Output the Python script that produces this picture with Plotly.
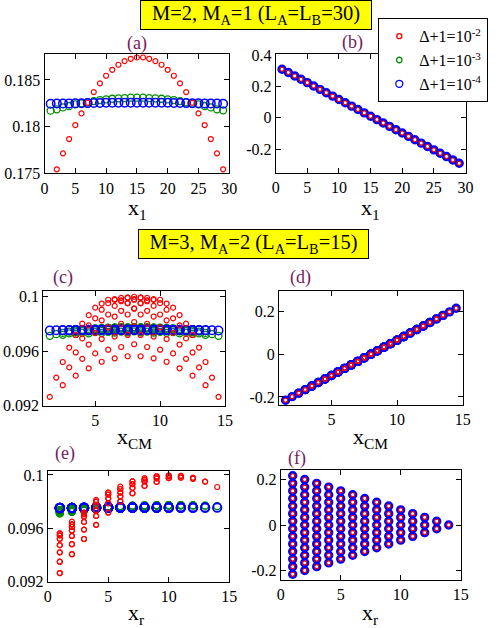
import plotly.graph_objects as go

# ---- top row: M=2, M_A=1 (L_A=L_B=30) ----
x1_sites = list(range(1, 30))
red_a_x = list(range(2, 30))
red_a = [0.17543, 0.17714, 0.17867, 0.18017, 0.18142, 0.18256, 0.18370, 0.18464,
         0.18545, 0.18609, 0.18663, 0.18702, 0.18727, 0.18742, 0.18742, 0.18727,
         0.18702, 0.18663, 0.18609, 0.18545, 0.18464, 0.18370, 0.18256, 0.18142,
         0.18017, 0.17867, 0.17714, 0.17543]
green_a = [0.18171, 0.18185, 0.18206, 0.18221, 0.18238, 0.18249, 0.18260, 0.18274,
           0.18285, 0.18292, 0.18299, 0.18303, 0.18306, 0.18310, 0.18310, 0.18310,
           0.18306, 0.18303, 0.18299, 0.18292, 0.18285, 0.18274, 0.18260, 0.18249,
           0.18238, 0.18221, 0.18206, 0.18185, 0.18175]
blue_a = [0.18246, 0.18247, 0.18248, 0.18249, 0.18250, 0.18251, 0.18252, 0.18253,
          0.18254, 0.18255, 0.18256, 0.18256, 0.18256, 0.18256, 0.18256, 0.18256,
          0.18256, 0.18256, 0.18256, 0.18255, 0.18254, 0.18253, 0.18252, 0.18251,
          0.18250, 0.18249, 0.18248, 0.18247, 0.18246]
# panel (b): the three curves coincide
line_b = [0.3090, 0.2876, 0.2661, 0.2447, 0.2233, 0.2019, 0.1804, 0.1590, 0.1376,
          0.1161, 0.0947, 0.0733, 0.0519, 0.0304, 0.0090, -0.0124, -0.0339, -0.0553,
          -0.0767, -0.0981, -0.1196, -0.1410, -0.1624, -0.1839, -0.2053, -0.2267,
          -0.2481, -0.2696, -0.2910]

# ---- lower rows: M=3, M_A=2 (L_A=L_B=15), one list per separation x_r = 1..14 ----
red_ce = [
    [0.09265, 0.09350, 0.09420, 0.09474, 0.09522, 0.09547, 0.09562, 0.09562, 0.09547, 0.09522, 0.09474, 0.09420, 0.09350, 0.09265],
    [0.09406, 0.09481, 0.09543, 0.09583, 0.09610, 0.09630, 0.09650, 0.09630, 0.09610, 0.09583, 0.09543, 0.09481, 0.09406],
    [0.09520, 0.09590, 0.09648, 0.09688, 0.09706, 0.09718, 0.09718, 0.09706, 0.09688, 0.09648, 0.09590, 0.09520],
    [0.09626, 0.09693, 0.09733, 0.09773, 0.09800, 0.09813, 0.09800, 0.09773, 0.09733, 0.09693, 0.09626],
    [0.09718, 0.09788, 0.09825, 0.09853, 0.09868, 0.09868, 0.09853, 0.09825, 0.09788, 0.09718],
    [0.09801, 0.09840, 0.09868, 0.09895, 0.09913, 0.09895, 0.09868, 0.09840, 0.09801],
    [0.09863, 0.09903, 0.09931, 0.09952, 0.09952, 0.09931, 0.09903, 0.09863],
    [0.09918, 0.09951, 0.09965, 0.09976, 0.09965, 0.09951, 0.09918],
    [0.09948, 0.09975, 0.09990, 0.09990, 0.09975, 0.09948],
    [0.09976, 0.09990, 0.09998, 0.09990, 0.09976],
    [0.09980, 0.09993, 0.09993, 0.09980],
    [0.09972, 0.09980, 0.09972],
    [0.09950, 0.09950],
    [0.09910],
]
green_ce = [
    [0.09712, 0.09719, 0.09725, 0.09730, 0.09734, 0.09736, 0.09737, 0.09737, 0.09736, 0.09734, 0.09730, 0.09725, 0.09719, 0.09712],
    [0.09724, 0.09730, 0.09735, 0.09739, 0.09741, 0.09743, 0.09745, 0.09743, 0.09741, 0.09739, 0.09735, 0.09730, 0.09724],
    [0.09733, 0.09739, 0.09744, 0.09748, 0.09749, 0.09750, 0.09750, 0.09749, 0.09748, 0.09744, 0.09739, 0.09733],
    [0.09742, 0.09748, 0.09752, 0.09755, 0.09757, 0.09758, 0.09757, 0.09755, 0.09752, 0.09748, 0.09742],
    [0.09750, 0.09756, 0.09759, 0.09762, 0.09763, 0.09763, 0.09762, 0.09759, 0.09756, 0.09750],
    [0.09757, 0.09761, 0.09763, 0.09765, 0.09767, 0.09765, 0.09763, 0.09761, 0.09757],
    [0.09763, 0.09766, 0.09768, 0.09770, 0.09770, 0.09768, 0.09766, 0.09763],
    [0.09767, 0.09770, 0.09771, 0.09772, 0.09771, 0.09770, 0.09767],
    [0.09770, 0.09772, 0.09773, 0.09773, 0.09772, 0.09770],
    [0.09772, 0.09773, 0.09774, 0.09773, 0.09772],
    [0.09773, 0.09774, 0.09774, 0.09773],
    [0.09772, 0.09773, 0.09772],
    [0.09770, 0.09770],
    [0.09767],
]
blue_ce = [
    [0.09751, 0.09752, 0.09752, 0.09753, 0.09753, 0.09753, 0.09753, 0.09753, 0.09753, 0.09753, 0.09753, 0.09752, 0.09752, 0.09751],
    [0.09752, 0.09753, 0.09753, 0.09754, 0.09754, 0.09754, 0.09754, 0.09754, 0.09754, 0.09754, 0.09753, 0.09753, 0.09752],
    [0.09753, 0.09754, 0.09754, 0.09755, 0.09755, 0.09755, 0.09755, 0.09755, 0.09755, 0.09754, 0.09754, 0.09753],
    [0.09754, 0.09755, 0.09755, 0.09755, 0.09756, 0.09756, 0.09756, 0.09755, 0.09755, 0.09755, 0.09754],
    [0.09755, 0.09755, 0.09756, 0.09756, 0.09756, 0.09756, 0.09756, 0.09756, 0.09755, 0.09755],
    [0.09755, 0.09756, 0.09756, 0.09756, 0.09756, 0.09756, 0.09756, 0.09756, 0.09755],
    [0.09756, 0.09756, 0.09756, 0.09756, 0.09756, 0.09756, 0.09756, 0.09756],
    [0.09756, 0.09756, 0.09756, 0.09756, 0.09756, 0.09756, 0.09756],
    [0.09756, 0.09756, 0.09756, 0.09756, 0.09756, 0.09756],
    [0.09756, 0.09756, 0.09756, 0.09756, 0.09756],
    [0.09756, 0.09756, 0.09756, 0.09756],
    [0.09756, 0.09756, 0.09756],
    [0.09756, 0.09756],
    [0.09756],
]
# panels (d)/(f): value depends on x_CM only, the three curves coincide
xcm_levels = [1.5, 2, 2.5, 3, 3.5, 4, 4.5, 5, 5.5, 6, 6.5, 7, 7.5, 8, 8.5, 9, 9.5,
              10, 10.5, 11, 11.5, 12, 12.5, 13, 13.5, 14, 14.5]
cm_vals = [-0.2155, -0.1989, -0.1823, -0.1658, -0.1492, -0.1326, -0.1160, -0.0995,
           -0.0829, -0.0663, -0.0497, -0.0332, -0.0166, 0.0, 0.0166, 0.0332, 0.0497,
           0.0663, 0.0829, 0.0995, 0.1160, 0.1326, 0.1492, 0.1658, 0.1823, 0.1989, 0.2155]

L = 15
xcm, xr = [], []
for d in range(1, L):
    for s in range(1, L - d + 1):
        xcm.append(s + d / 2)
        xr.append(d)
flat = lambda rows: [v for row in rows for v in row]
red_c, green_c, blue_c = flat(red_ce), flat(green_ce), flat(blue_ce)
cm_lookup = dict(zip(xcm_levels, cm_vals))
df_y = [cm_lookup[c] for c in xcm]

RED, GREEN, BLUE = "#ff0000", "#008c00", "#0000ff"
FONT = "Liberation Serif"


def mk(color, size, lw):
    return dict(symbol="circle-open", size=size, color=color, line=dict(width=lw, color=color))


fig = go.Figure()


def add(x, y, ax, color, size, lw):
    fig.add_trace(go.Scatter(x=x, y=y, mode="markers", marker=mk(color, size, lw),
                             xaxis="x" + ax, yaxis="y" + ax, showlegend=False))


# (a)
add(x1_sites, green_a, "", GREEN, 7, 1.3)
add(x1_sites, blue_a, "", BLUE, 8.5, 1.5)
add(red_a_x, red_a, "", RED, 5, 1.2)
# (b)
add(x1_sites, line_b, "2", GREEN, 5, 1.2)
add(x1_sites, line_b, "2", BLUE, 7, 2.4)
add(x1_sites, line_b, "2", RED, 4, 1.1)
# (c)
add(xcm, green_c, "3", GREEN, 7, 1.3)
add(xcm, blue_c, "3", BLUE, 8.5, 1.5)
add(xcm, red_c, "3", RED, 5, 1.2)
# (d)
add(xcm, df_y, "4", GREEN, 5, 1.2)
add(xcm, df_y, "4", BLUE, 7, 2.4)
add(xcm, df_y, "4", RED, 4, 1.1)
# (e)
add(xr, green_c, "5", GREEN, 7, 1.3)
add(xr, blue_c, "5", BLUE, 8.5, 1.8)
add(xr, red_c, "5", RED, 5, 1.2)
# (f)
add(xr, df_y, "6", GREEN, 5, 1.2)
add(xr, df_y, "6", BLUE, 7, 2.4)
add(xr, df_y, "6", RED, 4, 1.1)

# legend entries
for name, color, size in [("Δ+1=10<sup>-2</sup>", RED, 5),
                          ("Δ+1=10<sup>-3</sup>", GREEN, 5.5),
                          ("Δ+1=10<sup>-4</sup>", BLUE, 7)]:
    fig.add_trace(go.Scatter(x=[None], y=[None], mode="markers", name=name,
                             marker=mk(color, size, 1.3), xaxis="x2", yaxis="y2"))

W, H = 498, 628


def dom(x0, x1, y0, y1):
    return [x0 / W, x1 / W], [1 - y1 / H, 1 - y0 / H]


base = dict(showgrid=False, zeroline=False, showline=True, linecolor="black",
            linewidth=1, mirror="allticks", ticks="inside", ticklen=5,
            tickcolor="black", tickfont=dict(family=FONT, size=16, color="black"))

panels = {
    "": (dom(44.5, 229.3, 54.3, 173.3), [0, 30], [0, 5, 10, 15, 20, 25, 30],
         [0.175, 0.18775], [0.175, 0.18, 0.185], ["0.175", "0.18", "0.185"]),
    "2": (dom(275.7, 465.5, 54.3, 172.7), [0, 30], [0, 5, 10, 15, 20, 25, 30],
          [-0.351, 0.404], [-0.2, 0, 0.2, 0.4], ["-0.2", "0", "0.2", "0.4"]),
    "3": (dom(43.3, 225, 291, 405.7), [1, 15], [5, 10, 15],
          [0.092, 0.1004], [0.092, 0.096, 0.1], ["0.092", "0.096", "0.1"]),
    "4": (dom(279, 462.7, 290.7, 405), [1, 15], [5, 10, 15],
          [-0.238, 0.298], [-0.2, 0, 0.2], ["-0.2", "0", "0.2"]),
    "5": (dom(47.7, 229.3, 470.7, 581.7), [0, 15], [0, 5, 10, 15],
          [0.092, 0.10032], [0.092, 0.096, 0.1], ["0.092", "0.096", "0.1"]),
    "6": (dom(280.7, 460.7, 470, 580), [0, 15], [0, 5, 10, 15],
          [-0.2407, 0.2407], [-0.2, 0, 0.2], ["-0.2", "0", "0.2"]),
}
lay = {}
for k, ((xd, yd), xrng, xt, yrng, yt, ytt) in panels.items():
    lay["xaxis" + k] = dict(base, domain=xd, range=xrng, tickvals=xt,
                            anchor="y" + k)
    lay["yaxis" + k] = dict(base, domain=yd, range=yrng, tickvals=yt,
                            ticktext=ytt, anchor="x" + k)
fig.update_layout(**lay)

ann = []


def text(x, y, s, size, color="black", **kw):
    ann.append(dict(x=x / W, y=1 - y / H, xref="paper", yref="paper", text=s,
                    xanchor="center", yanchor="middle", showarrow=False,
                    font=dict(family=FONT, size=size, color=color), **kw))


# yellow headers
text(255.5, 15, "M=2, M<sub>A</sub>=1 (L<sub>A</sub>=L<sub>B</sub>=30)", 20.5,
     bgcolor="#ffff00", bordercolor="black", borderwidth=1, borderpad=1,
     width=228, height=26)
text(253.8, 244.3, "M=3, M<sub>A</sub>=2 (L<sub>A</sub>=L<sub>B</sub>=15)", 20.5,
     bgcolor="#ffff00", bordercolor="black", borderwidth=1, borderpad=1,
     width=227, height=26)

# panel tags
PURPLE = "#742060"
for s, x, y in [("(a)", 136.7, 43.3), ("(b)", 352.3, 42.7), ("(c)", 63.3, 277.3),
                ("(d)", 300, 277.3), ("(e)", 65, 453.3), ("(f)", 297.3, 458.3)]:
    text(x, y, s, 18, PURPLE)

# axis titles
for s, x, y in [("x<sub>1</sub>", 137, 209), ("x<sub>1</sub>", 370, 209),
                ("x<sub>CM</sub>", 134, 438), ("x<sub>CM</sub>", 370, 438),
                ("x<sub>r</sub>", 136, 614), ("x<sub>r</sub>", 370, 614)]:
    text(x, y, s, 22)

fig.update_layout(
    width=W, height=H,
    margin=dict(l=0, r=0, t=0, b=0, autoexpand=False),
    paper_bgcolor="white", plot_bgcolor="white",
    font=dict(family=FONT, size=16, color="black"),
    annotations=ann,
    showlegend=True,
    legend=dict(x=378.3 / W, y=1 - 18.3 / H, xanchor="left", yanchor="top",
                bgcolor="white", bordercolor="black", borderwidth=1,
                tracegroupgap=0, itemwidth=30,
                font=dict(family=FONT, size=16, color="black")),
)

fig.write_html("out.html", config={"displayModeBar": False},
               post_script="document.body.style.margin='0';")
